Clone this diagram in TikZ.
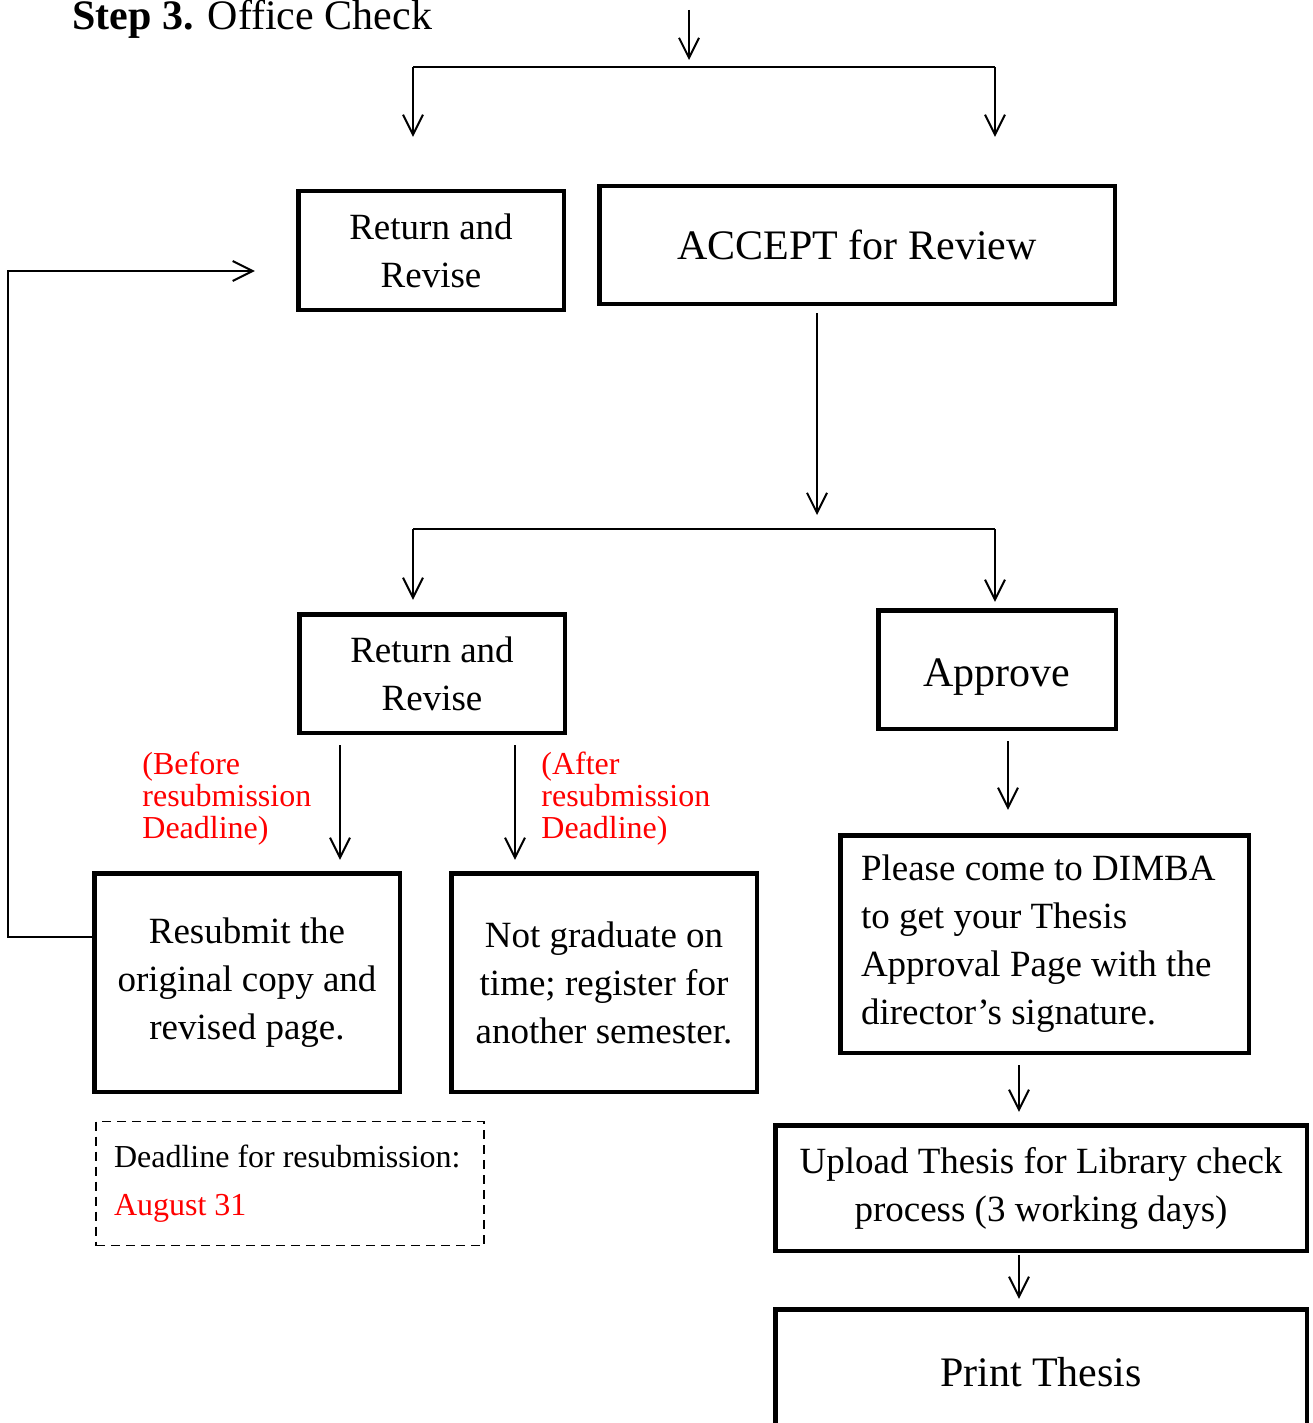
\documentclass[tikz,border=0pt]{standalone}
\usepackage{fontspec}
\setmainfont{Liberation Serif}
\usetikzlibrary{arrows.meta}
\tikzset{>={Straight Barb[length=10pt,width=10pt]}}
\tikzset{
  stepbox/.style={draw, line width=2.3pt, inner sep=0pt, align=center, font=\fontsize{18.5}{24}\selectfont},
  bigbox/.style={stepbox, font=\fontsize{21}{24}\selectfont},
  link/.style={line width=1pt},
  arr/.style={link,->},
  redlbl/.style={red, align=flush left, inner sep=0pt, anchor=north west, font=\fontsize{16}{16}\selectfont}
}

\begin{document}
\begin{tikzpicture}[x=0.5pt,y=-0.5pt]
  \clip (0,0) rectangle (1312,1423);
  % title
  \node[anchor=base west, inner sep=0pt, font=\fontsize{21}{24}\selectfont] (title) at (72,30) {\textbf{Step 3.} Office Check};

  % boxes
  \node[stepbox, minimum width=132.8pt, minimum height=59.3pt] (rr1) at (431,250.5) {Return and\\Revise};
  \node[bigbox, minimum width=257.8pt, minimum height=58.8pt] (acc) at (857,245) {ACCEPT for Review};
  \node[stepbox, minimum width=132.8pt, minimum height=59.3pt] (rr2) at (432,673.5) {Return and\\Revise};
  \node[bigbox, minimum width=118.8pt, minimum height=59.3pt, text height=21pt, text depth=4.5pt] (app) at (997,669.5) {Approve};
  \node[stepbox, minimum width=152.8pt, minimum height=109.3pt] (res) at (247,982.5) {Resubmit the\\original copy and\\revised page.};
  \node[stepbox, minimum width=152.8pt, minimum height=109.3pt] (not) at (604,982.5) {Not graduate on\\time; register for\\another semester.};
  \node[stepbox, minimum width=204.3pt, minimum height=108.8pt, text width=183.5pt, align=flush left] (dim) at (1044.5,944) {Please come to DIMBA\\to get your Thesis\\Approval Page with the\\director’s signature.};
  \node[stepbox, minimum width=265.8pt, minimum height=62.8pt] (upl) at (1041,1188) {Upload Thesis for Library check\\process (3 working days)};
  \node[bigbox, minimum width=265.8pt, minimum height=62.8pt] (prt) at (1041,1372) {Print Thesis};
  \node[draw, dash pattern=on 4.5pt off 3pt, line width=0.8pt, inner sep=0pt, minimum width=194pt, minimum height=62pt, text width=176pt, align=flush left, font=\fontsize{16}{24}\selectfont] (dl) at (290,1183.5) {Deadline for resubmission:\\\textcolor{red}{August 31}};

  % red notes
  \node[redlbl] (before) at (142,752) {(Before\\resubmission\\Deadline)};
  \node[redlbl] (after) at (541,752) {(After\\resubmission\\Deadline)};

  % junctions
  \coordinate (in) at (689,10);
  \coordinate (inend) at (689,60);
  \coordinate (b1l) at (413,67);
  \coordinate (b1r) at (995,67);
  \coordinate (b2m) at (817,529);
  \coordinate (b2l) at (413,529);
  \coordinate (b2r) at (995,529);
  \coordinate (fb1) at (8,937);
  \coordinate (fb2) at (8,271);

  % connectors
  \draw[arr] (in) -- (inend);
  \draw[link] (b1l) -- (b1r);
  \draw[arr, shorten >=26pt] (b1l) -- (b1l |- rr1.north);
  \draw[arr, shorten >=23.5pt] (b1r) -- (b1r |- acc.north);
  \draw[arr, shorten >=20.5pt] (res.west |- fb1) -- (fb1) -- (fb2) -- (fb2 -| rr1.west);
  \draw[arr, shorten <=3.5pt, shorten >=7pt] (acc.south -| b2m) -- (b2m);
  \draw[link] (b2l) -- (b2r);
  \draw[arr, shorten >=6pt] (b2l) -- (b2l |- rr2.north);
  \draw[arr, shorten >=3pt] (b2r) -- (b2r |- app.north);
  \draw[arr, shorten <=5pt, shorten >=5.5pt] ([xshift=-46pt]rr2.south) -- ([xshift=-46pt]rr2.south |- res.north);
  \draw[arr, shorten <=5pt, shorten >=5.5pt] ([xshift=41.5pt]rr2.south) -- ([xshift=41.5pt]rr2.south |- not.north);
  \draw[arr, shorten <=5pt, shorten >=11.5pt] ([xshift=5.5pt]app.south) -- ([xshift=5.5pt]app.south |- dim.north);
  \draw[arr, shorten <=5pt, shorten >=5.5pt] ([xshift=-12.75pt]dim.south) -- ([xshift=-12.75pt]dim.south |- upl.north);
  \draw[arr, shorten <=1pt, shorten >=4pt] ([xshift=-11pt]upl.south) -- ([xshift=-11pt]upl.south |- prt.north);
\end{tikzpicture}
\end{document}
